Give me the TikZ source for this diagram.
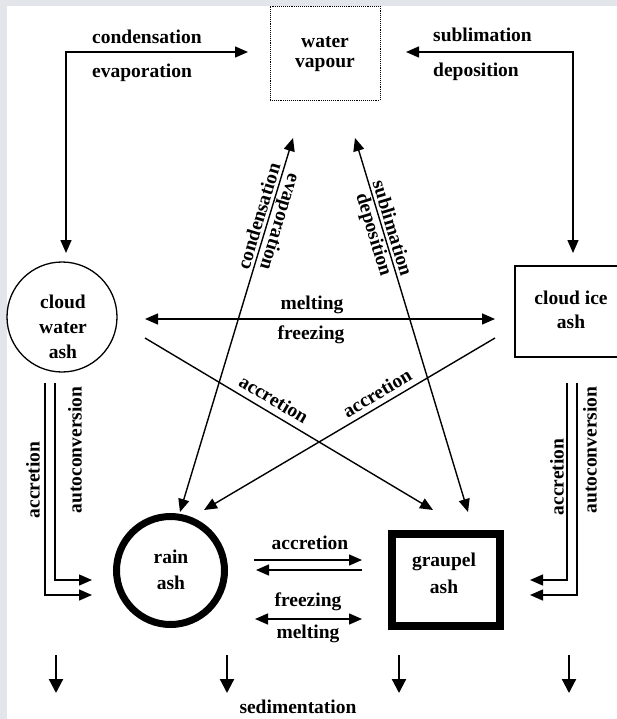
\documentclass[tikz,border=0pt]{standalone}
\usepackage{fontspec}
\setmainfont{Liberation Serif}
\usetikzlibrary{arrows.meta}
\definecolor{bggray}{RGB}{226,229,233}
\begin{document}
\begin{tikzpicture}[x=1pt,y=-1pt,
  lbl/.style={font=\fontsize{19.5}{20}\selectfont\bfseries, inner sep=0pt, align=center},
  ln/.style={line width=1.4pt},
  hd/.style={-{Triangle[length=13pt,width=11pt]}},
  hdd/.style={{Triangle[length=13pt,width=11pt]}-{Triangle[length=13pt,width=11pt]}},
  sed/.style={line width=2.2pt,-{Triangle[length=14pt,width=14pt]}}]
\useasboundingbox (0,0) rectangle (617,719);
\fill[bggray] (0,0) rectangle (617,719);
\fill[white] (7,6) rectangle (617,719);

% category nodes
\node[draw, densely dotted, line width=0.9pt, minimum width=110pt, minimum height=94pt, inner sep=0pt] (wv) at (325,53) {};
\node[lbl] (wvt) at (325,54) {water\\vapour};
\node[draw, circle, line width=1.3pt, minimum size=110pt, inner sep=0pt] (cw) at (62,317) {};
\node[lbl, font=\fontsize{19.5}{25}\selectfont\bfseries] (cwt) at (63,327) {cloud\\water\\ash};
\node[draw, line width=1.3pt, minimum width=125pt, minimum height=91pt, inner sep=0pt] (ci) at (577.5,311.5) {};
\node[lbl, font=\fontsize{19.5}{24}\selectfont\bfseries] (cit) at (571,310) {cloud ice\\ash\hspace{22pt}};
\node[draw, circle, line width=7pt, minimum size=108pt, inner sep=0pt] (ra) at (170.5,570.5) {};
\node[lbl, font=\fontsize{19.5}{26}\selectfont\bfseries] (rat) at (171,570) {rain\\ash};
\node[draw, line width=8pt, minimum width=108pt, minimum height=92pt, inner sep=0pt] (gr) at (446,580) {};
\node[lbl, font=\fontsize{19.5}{27}\selectfont\bfseries] (grt) at (444,573) {graupel\\ash};

% coordinates for connector ends
\coordinate (tlA) at (66,253); \coordinate (tlB) at (66,52); \coordinate (tlC) at (248,52);
\coordinate (trA) at (573,253); \coordinate (trB) at (573,52); \coordinate (trC) at (406,52);
\coordinate (vL1) at (180,512); \coordinate (vL2) at (293,138);
\coordinate (vR1) at (468,512); \coordinate (vR2) at (355,138);
\coordinate (mL) at (145,319); \coordinate (mR) at (495,319);
\coordinate (aL1) at (145,338); \coordinate (aL2) at (433,510);
\coordinate (aR1) at (495,338); \coordinate (aR2) at (204,510);

% top connectors
\draw[ln, hdd] (tlA) -- (tlB) -- (tlC);
\draw[ln, hdd] (trA) -- (trB) -- (trC);
\node[lbl, anchor=west] (l1) at (92,37) {condensation};
\node[lbl, anchor=west] (l2) at (92,73) {evaporation};
\node[lbl, anchor=west] (l3) at (433,35) {sublimation};
\node[lbl, anchor=west] (l4) at (433,72) {deposition};

% slanted vapour connectors
\draw[ln, hdd] (vL1) -- (vL2);
\draw[ln, hdd] (vR1) -- (vR2);
\node[lbl, rotate=73.2] (l5) at (258.5,216) {condensation};
\node[lbl, rotate=-106.8] (l6) at (279,222) {evaporation};
\node[lbl, rotate=-73.2] (l7) at (393,228) {sublimation};
\node[lbl, rotate=-73.2] (l8) at (373,235) {deposition};

% melting / freezing
\draw[ln, hdd] (mL) -- (mR);
\node[lbl] (l9) at (312,305) {melting};
\node[lbl] (l10) at (311,335) {freezing};

% accretion crossing
\draw[ln, hd] (aL1) -- (aL2);
\draw[ln, hd] (aR1) -- (aR2);
\node[lbl, rotate=-30.8] (l11) at (274,399) {accretion};
\node[lbl, rotate=30.7] (l12) at (377,393) {accretion};

% side double lines
\coordinate (sl1) at (55,383); \coordinate (sl1e) at (92,580);
\coordinate (sl2) at (45,383); \coordinate (sl2e) at (92,595);
\draw[ln, hd] (sl1) |- (sl1e);
\draw[ln, hd] (sl2) |- (sl2e);
\node[lbl, rotate=90] (l13) at (33,480) {accretion};
\node[lbl, rotate=90] (l14) at (75,450) {autoconversion};
\coordinate (sr1) at (567,383); \coordinate (sr1e) at (530,580);
\coordinate (sr2) at (577,383); \coordinate (sr2e) at (530,595);
\draw[ln, hd] (sr1) |- (sr1e);
\draw[ln, hd] (sr2) |- (sr2e);
\node[lbl, rotate=90] (l15) at (557,477) {accretion};
\node[lbl, rotate=90] (l16) at (590,450) {autoconversion};

% rain <-> graupel
\coordinate (ra1) at (254,560); \coordinate (gr1) at (362,560);
\coordinate (gr2) at (362,570); \coordinate (ra2) at (256,570);
\draw[ln, hd] (ra1) -- (gr1);
\draw[ln, hd] (gr2) -- (ra2);
\node[lbl] (l17) at (310,543) {accretion};
\coordinate (ra3) at (255,619); \coordinate (gr3) at (362,619);
\draw[ln, hdd] (ra3) -- (gr3);
\node[lbl] (l18) at (308,602) {freezing};
\node[lbl] (l19) at (308,634) {melting};

% sedimentation
\foreach \x/\n in {56/s1,227/s2,399/s3,569/s4}{
  \coordinate (\n a) at (\x,655); \coordinate (\n b) at (\x,693);
  \draw[sed] (\n a) -- (\n b);
}
\node[lbl] (l20) at (298,707) {sedimentation};
\end{tikzpicture}
\end{document}
